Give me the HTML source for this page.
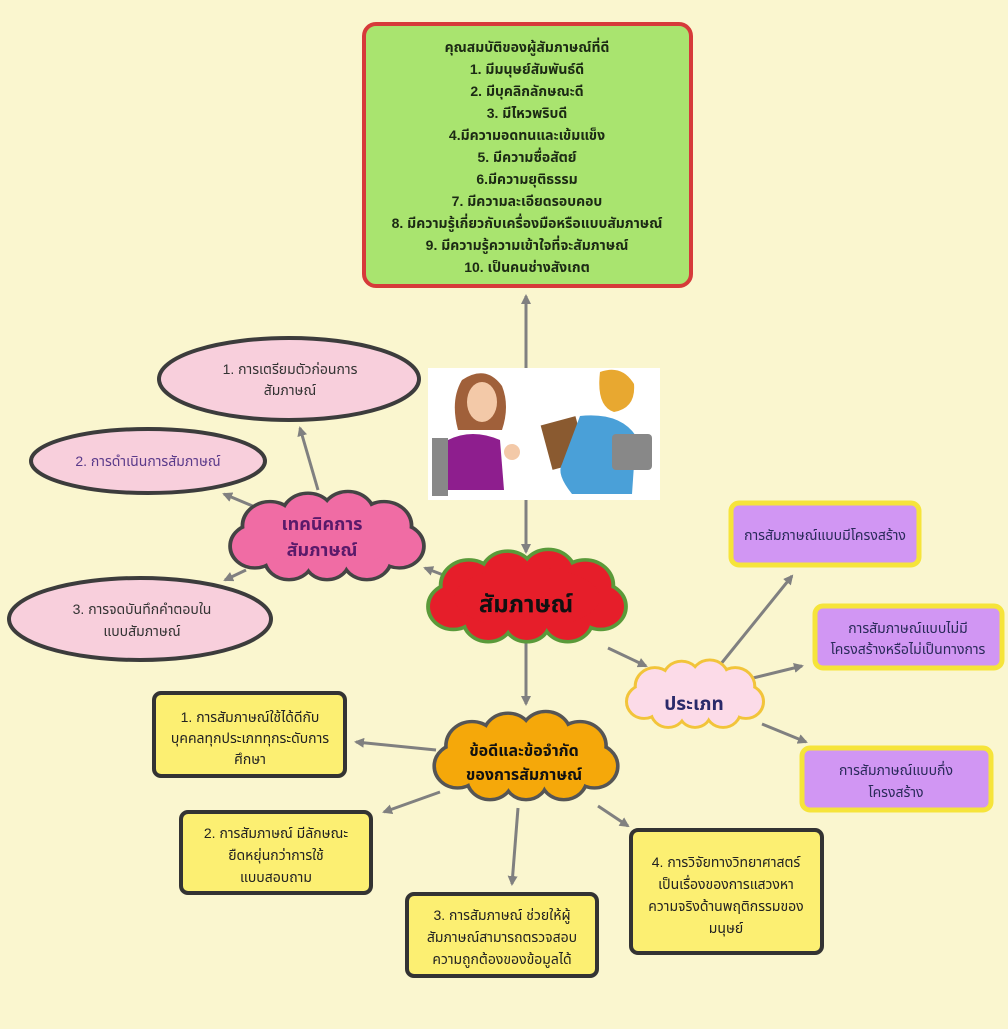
<!DOCTYPE html>
<html><head><meta charset="utf-8"><style>
body{margin:0;background:#faf6cf;}
.t{font-family:"Liberation Sans","Noto Sans Thai","Tlwg Typo",sans-serif;}
</style></head><body>
<svg width="1008" height="1024" viewBox="0 0 1008 1024" xmlns="http://www.w3.org/2000/svg" class="t">
<defs>
<g id="cl">
<circle cx="40" cy="38" r="27"/><circle cx="80" cy="27" r="26"/><circle cx="122" cy="25" r="26"/><circle cx="160" cy="38" r="27"/><circle cx="176" cy="62" r="24"/><circle cx="142" cy="76" r="24"/><circle cx="100" cy="78" r="22"/><circle cx="60" cy="76" r="24"/><circle cx="24" cy="62" r="24"/><ellipse cx="100" cy="52" rx="75" ry="35"/>
</g>
<marker id="ar" markerWidth="10" markerHeight="10" refX="8" refY="5" orient="auto" markerUnits="userSpaceOnUse"><path d="M0,0 L10,5 L0,10 z" fill="#808080"/></marker>
</defs>
<rect width="1008" height="1024" fill="#faf6cf"/>
<!-- arrows -->
<g stroke="#808080" stroke-width="3" fill="none" marker-end="url(#ar)">
<line x1="526" y1="368" x2="526" y2="296"/>
<line x1="526" y1="500" x2="526" y2="552"/>
<line x1="526" y1="642" x2="526" y2="704"/>
<line x1="608" y1="648" x2="646" y2="666"/>
<line x1="716" y1="670" x2="792" y2="576"/>
<line x1="753" y1="678" x2="802" y2="666"/>
<line x1="762" y1="724" x2="806" y2="742"/>
<line x1="446" y1="576" x2="425" y2="568"/>
<line x1="318" y1="490" x2="300" y2="428"/>
<line x1="262" y1="510" x2="224" y2="494"/>
<line x1="246" y1="570" x2="225" y2="580"/>
<line x1="436" y1="750" x2="356" y2="742"/>
<line x1="440" y1="792" x2="384" y2="812"/>
<line x1="518" y1="808" x2="512" y2="884"/>
<line x1="598" y1="806" x2="628" y2="826"/>
</g>
<!-- top green box -->
<rect x="364" y="24" width="327" height="262" rx="12" fill="#a9e46f" stroke="#d63a3a" stroke-width="4"/>
<g font-weight="bold" font-size="14" fill="#1c2a14" text-anchor="middle">
<text x="527" y="52">คุณสมบัติของผู้สัมภาษณ์ที่ดี</text>
<text x="527" y="74">1. มีมนุษย์สัมพันธ์ดี</text>
<text x="527" y="96">2. มีบุคลิกลักษณะดี</text>
<text x="527" y="118">3. มีไหวพริบดี</text>
<text x="527" y="140">4.มีความอดทนและเข้มแข็ง</text>
<text x="527" y="162">5. มีความซื่อสัตย์</text>
<text x="527" y="184">6.มีความยุติธรรม</text>
<text x="527" y="206">7. มีความละเอียดรอบคอบ</text>
<text x="527" y="228">8. มีความรู้เกี่ยวกับเครื่องมือหรือแบบสัมภาษณ์</text>
<text x="527" y="250">9. มีความรู้ความเข้าใจที่จะสัมภาษณ์</text>
<text x="527" y="272">10. เป็นคนช่างสังเกต</text>
</g>
<!-- picture -->
<rect x="428" y="368" width="232" height="132" fill="#ffffff"/>
<rect x="432" y="438" width="16" height="58" fill="#888"/>
<path d="M462,380 q24,-16 40,6 q8,20 0,44 l-44,0 q-8,-30 4,-50z" fill="#a0603a"/>
<ellipse cx="482" cy="402" rx="15" ry="20" fill="#f3c9a8"/>
<path d="M448,440 q24,-12 52,0 l4,50 l-56,0z" fill="#8e1e8e"/>
<circle cx="512" cy="452" r="8" fill="#f3c9a8"/>
<path d="M600,372 q22,-8 34,12 q2,24 -20,28 q-18,-6 -14,-40z" fill="#e8a830"/>
<rect x="546" y="420" width="36" height="46" fill="#8a5a30" transform="rotate(-15 564 443)"/>
<path d="M580,416 q40,-4 56,20 l-4,58 l-60,0 q-16,-20 -10,-30z" fill="#4aa0d8"/>
<rect x="612" y="434" width="40" height="36" rx="4" fill="#888"/>
<!-- left ellipses -->
<g fill="#f8cfdc" stroke="#3c3c3c" stroke-width="4">
<ellipse cx="289" cy="379" rx="130" ry="41"/>
<ellipse cx="148" cy="461" rx="117" ry="32"/>
<ellipse cx="140" cy="619" rx="131" ry="41"/>
</g>
<g font-size="14" fill="#333" text-anchor="middle">
<text x="290" y="374">1. การเตรียมตัวก่อนการ</text>
<text x="290" y="395">สัมภาษณ์</text>
<text x="148" y="466" fill="#5a3a8a">2. การดำเนินการสัมภาษณ์</text>
<text x="142" y="614">3. การจดบันทึกคำตอบใน</text>
<text x="142" y="636">แบบสัมภาษณ์</text>
</g>
<!-- clouds -->
<g transform="translate(232,494) scale(0.95,0.84)"><use href="#cl" fill="#444" stroke="#444" stroke-width="8"/><use href="#cl" fill="#f06ca4"/></g>
<text x="322" y="530" font-size="18" font-weight="bold" fill="#5a1a6a" text-anchor="middle">เทคนิคการ</text>
<text x="322" y="556" font-size="18" font-weight="bold" fill="#5a1a6a" text-anchor="middle">สัมภาษณ์</text>
<g transform="translate(430,552) scale(0.97,0.88)"><use href="#cl" fill="#5a9a3a" stroke="#5a9a3a" stroke-width="8"/><use href="#cl" fill="#e61e2a"/></g>
<text x="526" y="612" font-size="24" font-weight="bold" fill="#111" text-anchor="middle">สัมภาษณ์</text>
<g transform="translate(436,714) scale(0.9,0.84)"><use href="#cl" fill="#555" stroke="#555" stroke-width="8"/><use href="#cl" fill="#f5a80a"/></g>
<text x="524" y="756" font-size="16" font-weight="bold" fill="#111" text-anchor="middle">ข้อดีและข้อจำกัด</text>
<text x="524" y="780" font-size="16" font-weight="bold" fill="#111" text-anchor="middle">ของการสัมภาษณ์</text>
<g transform="translate(628,662) scale(0.67,0.64)"><use href="#cl" fill="#f2c43a" stroke="#f2c43a" stroke-width="9"/><use href="#cl" fill="#fcdbe8"/></g>
<text x="694" y="710" font-size="19" font-weight="bold" fill="#2a2a6a" text-anchor="middle">ประเภท</text>
<!-- purple boxes -->
<g fill="#d196f3" stroke="#f6e43a" stroke-width="5">
<rect x="731" y="503" width="188" height="62" rx="8"/>
<rect x="815" y="606" width="187" height="62" rx="8"/>
<rect x="802" y="748" width="189" height="62" rx="8"/>
</g>
<g font-size="14" fill="#2a2a5a" text-anchor="middle">
<text x="825" y="540">การสัมภาษณ์แบบมีโครงสร้าง</text>
<text x="908" y="633">การสัมภาษณ์แบบไม่มี</text>
<text x="908" y="654">โครงสร้างหรือไม่เป็นทางการ</text>
<text x="896" y="775">การสัมภาษณ์แบบกึ่ง</text>
<text x="896" y="797">โครงสร้าง</text>
</g>
<!-- yellow boxes -->
<g fill="#fcef72" stroke="#333" stroke-width="4">
<rect x="154" y="693" width="191" height="83" rx="7"/>
<rect x="181" y="812" width="190" height="81" rx="7"/>
<rect x="407" y="894" width="190" height="82" rx="7"/>
<rect x="631" y="830" width="191" height="123" rx="7"/>
</g>
<g font-size="14" fill="#222" text-anchor="middle">
<text x="250" y="722">1. การสัมภาษณ์ใช้ได้ดีกับ</text>
<text x="250" y="743">บุคคลทุกประเภททุกระดับการ</text>
<text x="250" y="764">ศึกษา</text>
<text x="276" y="838">2. การสัมภาษณ์ มีลักษณะ</text>
<text x="276" y="860">ยืดหยุ่นกว่าการใช้</text>
<text x="276" y="882">แบบสอบถาม</text>
<text x="502" y="920">3. การสัมภาษณ์ ช่วยให้ผู้</text>
<text x="502" y="942">สัมภาษณ์สามารถตรวจสอบ</text>
<text x="502" y="964">ความถูกต้องของข้อมูลได้</text>
<text x="726" y="867">4. การวิจัยทางวิทยาศาสตร์</text>
<text x="726" y="889">เป็นเรื่องของการแสวงหา</text>
<text x="726" y="911">ความจริงด้านพฤติกรรมของ</text>
<text x="726" y="933">มนุษย์</text>
</g>
</svg>
</body></html>
